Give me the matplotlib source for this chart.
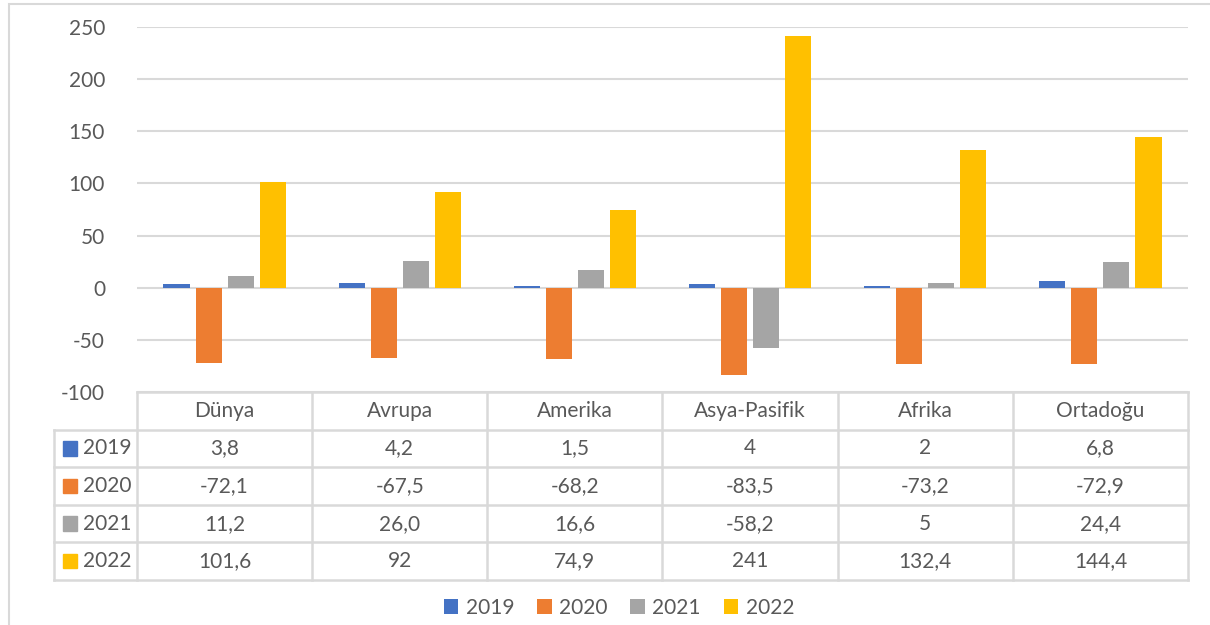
import numpy as np
import matplotlib.pyplot as plt
from matplotlib.patches import Rectangle

plt.rcParams['font.family'] = ['Lato', 'DejaVu Sans']
plt.rcParams['axes.unicode_minus'] = False

regions = ["Dünya", "Avrupa", "Amerika", "Asya-Pasifik", "Afrika", "Ortadoğu"]
years = ["2019", "2020", "2021", "2022"]
v2019 = [3.8, 4.2, 1.5, 4, 2, 6.8]
v2020 = [-72.1, -67.5, -68.2, -83.5, -73.2, -72.9]
v2021 = [11.2, 26.0, 16.6, -58.2, 5, 24.4]
v2022 = [101.6, 92, 74.9, 241, 132.4, 144.4]
labels2019 = ["3,8", "4,2", "1,5", "4", "2", "6,8"]
labels2020 = ["-72,1", "-67,5", "-68,2", "-83,5", "-73,2", "-72,9"]
labels2021 = ["11,2", "26,0", "16,6", "-58,2", "5", "24,4"]
labels2022 = ["101,6", "92", "74,9", "241", "132,4", "144,4"]

series = [v2019, v2020, v2021, v2022]
cell_text = [labels2019, labels2020, labels2021, labels2022]
colors = ["#4472C4", "#ED7D31", "#A5A5A5", "#FFC000"]
txt = "#595959"
grid = "#D9D9D9"
fs = 15

W, H = 1210, 625
fig = plt.figure(figsize=(W / 100, H / 100), dpi=100)

# outer frame (right/bottom edges run off the picture)
fig.patches.append(Rectangle((9 / W, -0.2), 1.2, 1.2 - 4 / H, transform=fig.transFigure,
                             fill=False, edgecolor=grid, lw=1.5))

px0, px1 = 137, 1188
py0, py1 = 27, 392
ax = fig.add_axes([px0 / W, 1 - py1 / H, (px1 - px0) / W, (py1 - py0) / H])
x = np.arange(len(regions))
slot, bw = 0.183, 0.149
for i, (vals, c) in enumerate(zip(series, colors)):
    ax.bar(x + (i - 1.5) * slot, vals, bw, color=c, label=years[i], zorder=3)
ax.set_xlim(-0.5, 5.5)
ax.set_ylim(-100, 250)
ax.set_yticks(np.arange(-100, 251, 50))
ax.set_xticks([])
for s in ax.spines.values():
    s.set_visible(False)
ax.grid(axis='y', color=grid, lw=1.5, zorder=0)
ax.tick_params(axis='y', length=0, pad=23, labelsize=fs, labelcolor=txt)

# data table under the plot
tx0 = 54
tab = fig.add_axes([tx0 / W, 1 - 580 / H, (px1 - tx0) / W, (580 - 392) / H])
left = -0.5 - (px0 - tx0) / 175.2
tab.set_xlim(left, 5.5)
tab.set_ylim(5, 0)
tab.axis('off')
kw = dict(color=grid, lw=1.8, clip_on=False)
tab.plot([-0.5, 5.5], [0, 0], **kw)
for r in range(1, 6):
    tab.plot([left, 5.5], [r, r], **kw)
tab.plot([left, left], [1, 5], **kw)
for k in range(7):
    tab.plot([k - 0.5, k - 0.5], [0, 5], **kw)
for k, name in enumerate(regions):
    tab.text(k, 0.5, name, ha='center', va='center', fontsize=fs, color=txt)
for r, (yr, row) in enumerate(zip(years, cell_text)):
    tab.add_patch(Rectangle((left + 0.052, r + 1.5 - 0.19), 0.08, 0.38,
                            color=colors[r], clip_on=False))
    tab.text(left + 0.168, r + 1.5, yr, ha='left', va='center', fontsize=fs, color=txt)
    for k, s in enumerate(row):
        tab.text(k, r + 1.5, s, ha='center', va='center', fontsize=fs, color=txt)

ax.legend(loc='center', bbox_to_anchor=(619 / W, 1 - 608 / H), bbox_transform=fig.transFigure,
          ncol=4, frameon=False, fontsize=fs, labelcolor=txt, handlelength=0.7,
          handleheight=0.7, handletextpad=0.35, columnspacing=1.1)

fig.savefig("out.png", dpi=100)
